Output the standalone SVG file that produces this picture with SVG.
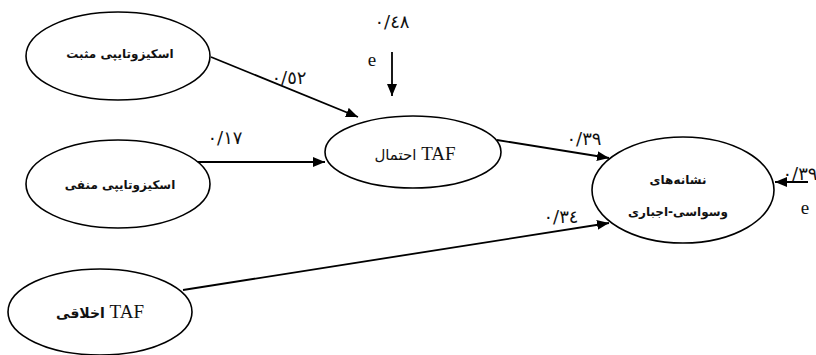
<svg xmlns="http://www.w3.org/2000/svg" width="816" height="355" viewBox="0 0 816 355">
<style>
.node ellipse{fill:#fff;stroke:#000;stroke-width:1.6}
.fa{font-family:"DejaVu Sans","Noto Sans",sans-serif;font-size:12px;font-weight:bold;fill:#111;text-anchor:middle}
.lat{font-family:"Liberation Serif",serif;font-size:19px;fill:#111}
.num{font-family:"DejaVu Sans","Liberation Serif",serif;font-size:18px;fill:#111;text-anchor:middle}
.edges line{stroke:#000;stroke-width:1.8}
</style>
<defs>
<marker id="ah" viewBox="0 0 12 10" refX="12" refY="5" markerWidth="12" markerHeight="10" markerUnits="userSpaceOnUse" orient="auto">
<path d="M0,0 L12,5 L0,10 z" fill="#000"/>
</marker>
</defs>
<g class="edges">
<line x1="211" y1="57" x2="358" y2="117" marker-end="url(#ah)"/>
<line x1="194" y1="162" x2="325" y2="162" marker-end="url(#ah)"/>
<line x1="392" y1="52" x2="392" y2="96" marker-end="url(#ah)"/>
<line x1="497" y1="140" x2="609" y2="158" marker-end="url(#ah)"/>
<line x1="183" y1="290" x2="609" y2="223" marker-end="url(#ah)"/>
<line x1="808" y1="182" x2="775" y2="182" marker-end="url(#ah)"/>
</g>
<g id="n1" class="node">
<ellipse cx="118" cy="56" rx="92" ry="44"/>
<text class="fa" x="120" y="58">اسکیزوتایپی مثبت</text>
</g>
<g id="n2" class="node">
<ellipse cx="118" cy="184" rx="92" ry="44"/>
<text class="fa" x="120" y="189">اسکیزوتایپی منفی</text>
</g>
<g id="n3" class="node">
<ellipse cx="413" cy="152" rx="88" ry="36"/>
<text x="415" y="160" text-anchor="middle"><tspan class="fa" style="font-weight:normal;font-size:15px">احتمال</tspan><tspan class="lat"> TAF</tspan></text>
</g>
<g id="n4" class="node">
<ellipse cx="683" cy="190" rx="91" ry="53"/>
<text class="fa" x="678" y="184">نشانه‌های</text>
<text class="fa" x="678" y="216">وسواسی-اجباری</text>
</g>
<g id="n5" class="node">
<ellipse cx="100" cy="312" rx="92" ry="43"/>
<text x="100" y="318" text-anchor="middle"><tspan class="fa" style="font-size:14px">اخلاقی</tspan><tspan class="lat"> TAF</tspan></text>
</g>
<text class="num" x="392" y="28">٠/٤٨</text>
<text class="lat" x="372" y="66" text-anchor="middle">e</text>
<text class="num" x="289" y="84">٠/٥٢</text>
<text class="num" x="225" y="144">٠/١٧</text>
<text class="num" x="584" y="145">٠/٣٩</text>
<text class="num" x="561" y="223">٠/٣٤</text>
<text class="num" x="800" y="180">٠/٣٩</text>
<text class="lat" x="805" y="214" text-anchor="middle">e</text>
</svg>
